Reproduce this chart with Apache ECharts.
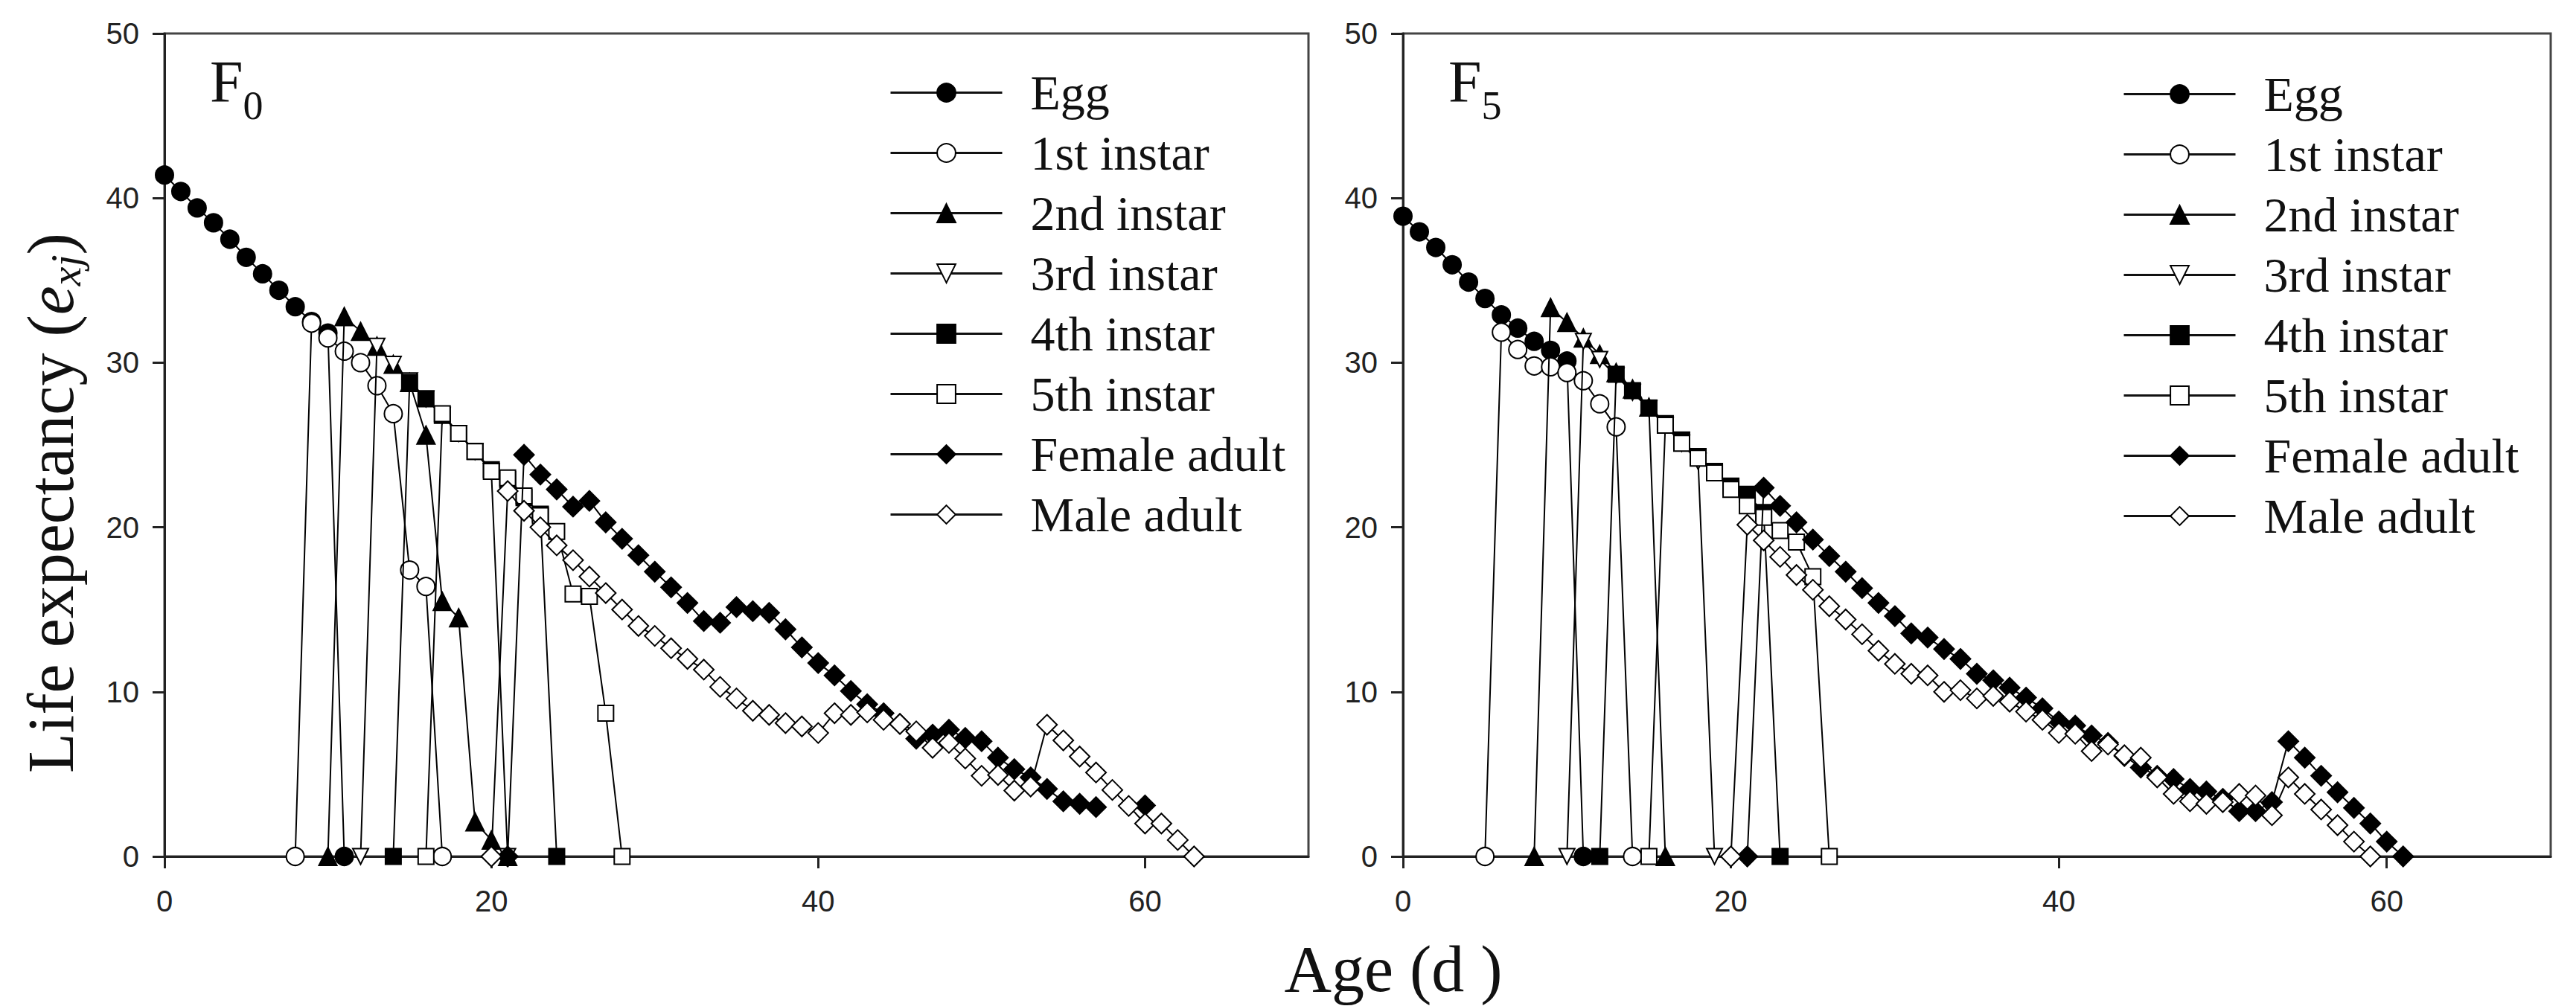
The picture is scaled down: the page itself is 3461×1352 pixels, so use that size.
<!DOCTYPE html>
<html><head><meta charset="utf-8">
<script src="https://cdn.jsdelivr.net/npm/echarts@6/dist/echarts.min.js"></script>
<style>html,body{margin:0;padding:0;background:#fff}#c{width:3461px;height:1352px}</style>
</head><body><div id="c"></div>
<script>
// ---- data ----
const stageNames = ['Egg','1st instar','2nd instar','3rd instar','4th instar','5th instar','Female adult','Male adult'];
const xTickValues = [0, 20, 40, 60];
const yTickValues = [0, 10, 20, 30, 40, 50];

// F0 (left panel): first age of each stage and e_xj values for consecutive ages
const F0_starts = [0, 8, 10, 12, 14, 16, 21, 20];
const F0_egg = [41.4, 40.4, 39.4, 38.5, 37.5, 36.4, 35.4, 34.4, 33.4, 32.5, 31.8, 0];
const F0_inst1 = [0, 32.4, 31.5, 30.7, 30.0, 28.6, 26.9, 17.4, 16.4, 0];
const F0_inst2 = [0, 32.8, 31.9, 31.0, 29.9, 28.8, 25.6, 15.5, 14.5, 2.1, 1.0, 0];
const F0_inst3 = [0, 31.0, 29.9, 28.9, 27.8, 26.8, 25.7, 24.6, 23.4, 0];
const F0_inst4 = [0, 28.8, 27.8, 26.8, 25.7, 24.6, 23.5, 22.9, 21.8, 20.8, 0];
const F0_inst5 = [0, 26.9, 25.7, 24.6, 23.4, 23.0, 21.9, 20.7, 19.75, 15.95, 15.8, 8.7, 0];
const F0_female = [0, 24.4, 23.2, 22.3, 21.25, 21.6, 20.3, 19.3, 18.3, 17.3, 16.35, 15.4, 14.3, 14.2, 15.15, 14.9, 14.8, 13.8, 12.7, 11.75, 11.0, 10.05, 9.25, 8.7, 8.05, 7.15, 7.4, 7.7, 7.2, 7.0, 6.0, 5.3, 4.8, 4.1, 3.35, 3.2, 3.0, null, null, 3.1];
const F0_male = [0, 22.2, 21.0, 20.0, 18.9, 18.0, 17.0, 16.0, 15.0, 14.0, 13.4, 12.65, 12.0, 11.35, 10.3, 9.6, 8.85, 8.6, 8.1, 7.9, 7.5, 8.7, 8.6, 8.75, 8.3, 8.05, 7.6, 6.6, 6.9, 5.95, 4.9, 4.95, 4.0, 4.25, 8.0, 7.05, 6.07, 5.1, 4.04, 3.07, 2.0, 2.0, 1.0, 0];

// F5 (right panel)
const F5_starts = [0, 5, 8, 10, 12, 15, 21, 20];
const F5_egg = [38.9, 37.95, 37.0, 35.95, 34.9, 33.9, 32.9, 32.1, 31.3, 30.75, 30.1, 0];
const F5_inst1 = [0, 31.85, 30.8, 29.8, 29.75, 29.4, 28.9, 27.5, 26.1, 0];
const F5_inst2 = [0, 33.35, 32.45, 31.5, 30.5, 29.4, 28.4, 27.3, 0];
const F5_inst3 = [0, 31.3, 30.2, 29.2, 28.2, 27.2, 26.2, 25.1, 24.0, 0];
const F5_inst4 = [0, 29.3, 28.3, 27.25, 26.3, 25.3, 24.3, 23.4, 22.5, 22.0, 20.9, 0];
const F5_inst5 = [0, 26.2, 25.1, 24.2, 23.3, 22.3, 21.3, 20.6, 19.8, 19.1, 17.0, 0];
const F5_female = [0, 22.4, 21.3, 20.3, 19.25, 18.25, 17.3, 16.3, 15.4, 14.6, 13.55, 13.3, 12.6, 12.0, 11.1, 10.7, 10.25, 9.65, 9.0, 8.2, 7.95, 7.35, 6.9, 6.1, 5.4, 4.9, 4.7, 4.1, 3.95, 3.5, 2.75, 2.75, 3.3, 7.0, 6.0, 4.9, 3.9, 2.95, 2.0, 0.9, 0];
const F5_male = [0, 20.15, 19.2, 18.2, 17.1, 16.2, 15.2, 14.4, 13.5, 12.5, 11.7, 11.1, 11.0, 10.0, 10.1, 9.6, 9.75, 9.4, 8.8, 8.3, 7.5, 7.45, 6.4, 6.8, 6.15, 6.0, 4.8, 3.8, 3.35, 3.2, 3.3, 3.8, 3.7, 2.5, 4.8, 3.8, 2.85, 1.9, 0.9, 0];

const F0_values = [F0_egg, F0_inst1, F0_inst2, F0_inst3, F0_inst4, F0_inst5, F0_female, F0_male];
const F5_values = [F5_egg, F5_inst1, F5_inst2, F5_inst3, F5_inst4, F5_inst5, F5_female, F5_male];

// ---- styles ----
const marks = [
  {symbol: 'circle', size: 24, fill: '#000', rot: 0},
  {symbol: 'circle', size: 24, fill: '#fff', rot: 0},
  {symbol: 'triangle', size: 24, fill: '#000', rot: 0},
  {symbol: 'triangle', size: 21, fill: '#fff', rot: 180},
  {symbol: 'rect', size: 21, fill: '#000', rot: 0},
  {symbol: 'rect', size: 21, fill: '#fff', rot: 0},
  {symbol: 'diamond', size: 27, fill: '#000', rot: 0},
  {symbol: 'diamond', size: 27, fill: '#fff', rot: 0}
];

function buildSeries(starts, valuesList, idx) {
  return valuesList.map((vals, k) => ({
    type: 'line',
    name: stageNames[k],
    xAxisIndex: idx, yAxisIndex: idx,
    data: vals.map((v, i) => [starts[k] + i, v]),
    symbol: marks[k].symbol,
    symbolSize: marks[k].size,
    symbolRotate: marks[k].rot,
    showAllSymbol: true,
    connectNulls: false,
    lineStyle: {color: '#000', width: 2},
    itemStyle: {color: marks[k].fill, borderColor: '#000', borderWidth: 2, opacity: 1},
    emphasis: {disabled: true},
    z: 2 + k
  }));
}

const serifFont = '"Liberation Serif", "Times New Roman", serif';
const sansFont = '"Liberation Sans", Arial, sans-serif';

function xAxisDef(idx) {
  return {
    type: 'value', gridIndex: idx, min: 0, max: 70, interval: 20,
    axisLine: {show: true, onZero: false, lineStyle: {color: '#222', width: 3}},
    axisTick: {show: true, inside: false, length: 16, lineStyle: {color: '#222', width: 3}, customValues: xTickValues},
    axisLabel: {customValues: xTickValues, margin: 40, fontFamily: sansFont, fontSize: 40, color: '#222'},
    splitLine: {show: false}
  };
}
function yAxisDef(idx) {
  return {
    type: 'value', gridIndex: idx, min: 0, max: 50, interval: 10,
    axisLine: {show: true, onZero: false, lineStyle: {color: '#222', width: 3}},
    axisTick: {show: true, inside: false, length: 16, lineStyle: {color: '#222', width: 3}},
    axisLabel: {margin: 34, fontFamily: sansFont, fontSize: 40, color: '#222'},
    splitLine: {show: false}
  };
}
function legendDef(left, top) {
  return {
    data: stageNames, orient: 'vertical', left: left, top: top, padding: 0,
    itemWidth: 150, itemHeight: 31, itemGap: 0, selectedMode: false,
    lineStyle: {width: 3, color: '#111'},
    textStyle: {fontFamily: serifFont, fontSize: 66, lineHeight: 81, color: '#111', padding: [0, 0, 0, 33]}
  };
}

const chart = echarts.init(document.getElementById('c'), null, {renderer: 'svg'});
chart.setOption({
  backgroundColor: '#fff',
  animation: false,
  grid: [
    {left: 221, top: 45, width: 1537, height: 1106, show: true, borderColor: '#444', borderWidth: 3, backgroundColor: 'transparent'},
    {left: 1885, top: 45, width: 1542, height: 1106, show: true, borderColor: '#444', borderWidth: 3, backgroundColor: 'transparent'}
  ],
  xAxis: [xAxisDef(0), xAxisDef(1)],
  yAxis: [yAxisDef(0), yAxisDef(1)],
  legend: [legendDef(1195, 84), legendDef(2852, 86)],
  series: buildSeries(F0_starts, F0_values, 0).concat(buildSeries(F5_starts, F5_values, 1)),
  graphic: [
    {type: 'text', x: 68, y: 676, rotation: Math.PI / 2, z: 100,
      style: {text: '{a|Life expectancy (}{i|e}{s|xj}{a|)}', align: 'center', verticalAlign: 'middle',
        rich: {
          a: {fontFamily: serifFont, fontSize: 88, lineHeight: 88, fill: '#111'},
          i: {fontFamily: serifFont, fontSize: 88, lineHeight: 88, fontStyle: 'italic', fill: '#111'},
          s: {fontFamily: serifFont, fontSize: 58, lineHeight: 58, fontStyle: 'italic', fill: '#111', padding: [40, 0, 0, 0]}
        }}},
    {type: 'text', x: 1872, y: 1302, z: 100,
      style: {text: 'Age (d )', align: 'center', verticalAlign: 'middle', fontFamily: serifFont, fontSize: 88, fill: '#111'}},
    {type: 'text', x: 282, y: 110, z: 100,
      style: {text: '{f|F}{s|0}', align: 'left', verticalAlign: 'middle',
        rich: {
          f: {fontFamily: serifFont, fontSize: 80, lineHeight: 80, fill: '#111'},
          s: {fontFamily: serifFont, fontSize: 54, lineHeight: 54, fill: '#111', padding: [64, 0, 0, 0]}
        }}},
    {type: 'text', x: 1946, y: 110, z: 100,
      style: {text: '{f|F}{s|5}', align: 'left', verticalAlign: 'middle',
        rich: {
          f: {fontFamily: serifFont, fontSize: 80, lineHeight: 80, fill: '#111'},
          s: {fontFamily: serifFont, fontSize: 54, lineHeight: 54, fill: '#111', padding: [64, 0, 0, 0]}
        }}}
  ]
});
</script>
</body></html>
